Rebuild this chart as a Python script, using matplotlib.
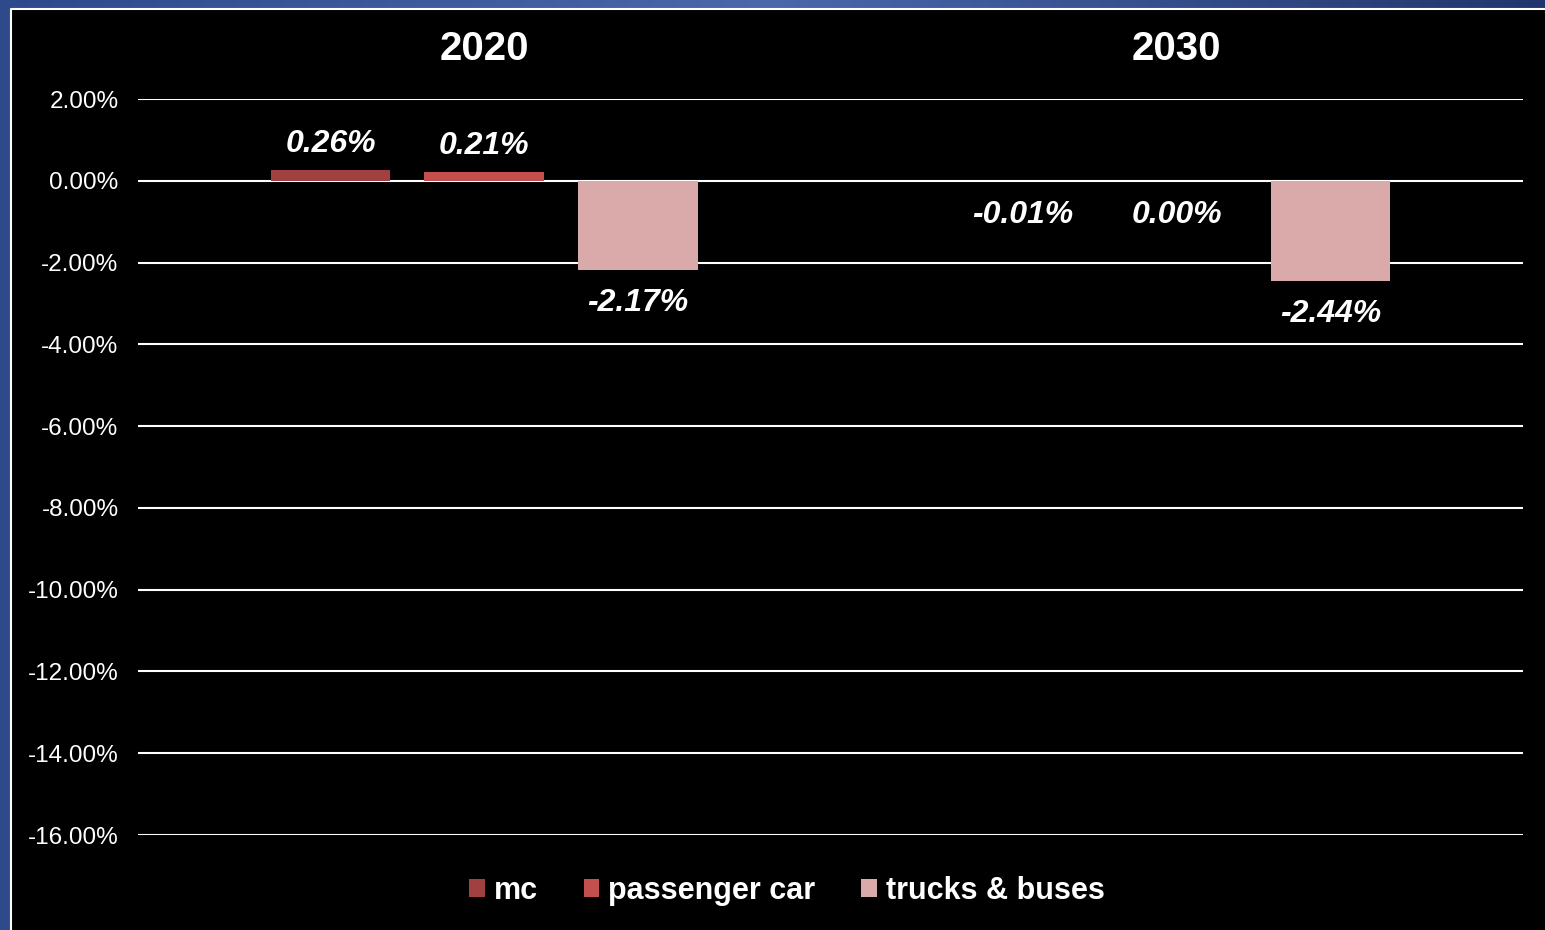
import numpy as np
import matplotlib
matplotlib.use('Agg')
import matplotlib.pyplot as plt
from matplotlib.patches import Rectangle
from matplotlib.colors import LinearSegmentedColormap

# data
years = ['2020', '2030']
series = ['mc', 'passenger car', 'trucks & buses']
mc = [0.26, -0.01]
passenger_car = [0.21, 0.00]
trucks_buses = [-2.17, -2.44]
colors = ['#A04040', '#C4504D', '#DAAAAA']
yticks = [2, 0, -2, -4, -6, -8, -10, -12, -14, -16]

plt.rcParams['font.family'] = ['Liberation Sans', 'DejaVu Sans']

W, H = 1545, 930
fig = plt.figure(figsize=(W / 100, H / 100), dpi=100)

# blue gradient backdrop with black panel
bg = fig.add_axes([0, 0, 1, 1])
grad = np.linspace(0, 1, 256).reshape(1, -1)
cmap = LinearSegmentedColormap.from_list('b', ['#2E4A8A', '#4A68AA', '#22366E'])
bg.imshow(grad, aspect='auto', cmap=cmap, extent=[0, 1, 0, 1])
bg.add_patch(Rectangle((11 / W, 0), 1, 1 - 9 / H, facecolor='black',
                       edgecolor='none', transform=bg.transAxes))
bg.plot([11 / W, 11 / W, 1], [0, 1 - 9 / H, 1 - 9 / H], color='white', lw=1.5,
        transform=bg.transAxes)
bg.set_xlim(0, 1)
bg.set_ylim(0, 1)
bg.axis('off')

ax = fig.add_axes([138 / W, (H - 835) / H, (1523 - 138) / W, (835 - 99) / H])
ax.set_facecolor('black')
x = np.arange(len(years))
width = 0.173
step = 0.222
for i, (name, vals) in enumerate(zip(series, [mc, passenger_car, trucks_buses])):
    pos = x + (i - 1) * step
    ax.bar(pos, vals, width, color=colors[i], label=name, zorder=3)
    for p, v in zip(pos, vals):
        if v > 0:
            ax.annotate(f'{v:.2f}%', (p, v), xytext=(0, 8), textcoords='offset points',
                        ha='center', va='bottom', color='white', fontsize=23,
                        fontweight='bold', fontstyle='italic', zorder=4)
        else:
            ax.annotate(f'{v:.2f}%', (p, v), xytext=(0, -13.5), textcoords='offset points',
                        ha='center', va='top', color='white', fontsize=23,
                        fontweight='bold', fontstyle='italic', zorder=4)

ax.set_xlim(-0.5, 1.5)
ax.set_ylim(-16, 2)
ax.set_yticks(yticks)
ax.set_yticklabels([f'{t:.2f}%' for t in yticks], color='white', fontsize=17.5)
ax.yaxis.grid(True, color='white', lw=1.5, zorder=1)
ax.set_xticks(x)
ax.set_xticklabels(years, color='white', fontsize=29, fontweight='bold')
ax.xaxis.tick_top()
ax.tick_params(axis='x', length=0, pad=22)
ax.tick_params(axis='y', length=0, pad=14)
for s in ax.spines.values():
    s.set_visible(False)

fig.legend(loc='center', bbox_to_anchor=(787 / W, 1 - 891 / H), ncol=3, frameon=False,
           prop={'size': 22, 'weight': 'bold'}, labelcolor='white', handlelength=0.5,
           handleheight=0.5, handletextpad=0.3, columnspacing=1.5)

fig.savefig('out.png', dpi=100, facecolor='black')
